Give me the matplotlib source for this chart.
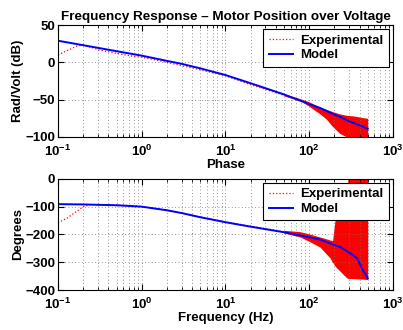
import matplotlib
matplotlib.use('Agg')
import matplotlib.pyplot as plt
import numpy as np

plt.rcParams['font.family'] = ['Liberation Sans', 'DejaVu Sans']
plt.rcParams['font.weight'] = 'bold'
plt.rcParams['axes.labelweight'] = 'bold'
plt.rcParams['axes.titleweight'] = 'bold'
plt.rcParams['mathtext.fontset'] = 'custom'
plt.rcParams['mathtext.bf'] = 'Liberation Sans:bold'
plt.rcParams['mathtext.rm'] = 'Liberation Sans:bold'

# ---------------- data ----------------
# Model curve
freq_model = [0.1, 0.2, 0.5, 1, 2, 3, 5, 10, 20, 50, 100, 134, 200, 234, 300, 372, 437, 470, 500]
mag_model = [29, 23, 15, 9, 2, -2, -8, -17, -28, -43, -56, -61, -70, -73, -79, -83, -86, -88, -89]
phase_model = [-91, -92, -95, -100, -113, -123, -138, -156, -172, -192, -210, -218, -238, -245,
               -265, -285, -328, -343, -358]

# Experimental (dotted trace)
freq_exp = [0.1, 0.13, 0.17, 0.2, 0.25, 0.3, 0.5, 0.8, 1, 2, 5, 10, 20, 50]
mag_exp = [10, 16, 22, 23, 20, 17, 12, 8, 7, 0, -10, -18, -30, -44]
phase_exp = [-158, -140, -115, -100, -92, -93, -94, -96, -100, -113, -137, -155, -170, -190]

# Experimental scatter envelope at high frequency
freq_cloud_mag = [50, 80, 100, 134, 160, 190, 230, 280, 350, 430, 500]
mag_cloud_hi = [-42, -49, -53, -60, -63, -66, -69, -71, -72, -74, -75]
mag_cloud_lo = [-45, -52, -59, -69, -76, -86, -95, -100, -105, -105, -105]

freq_cloud_ph = [50, 78, 100, 134, 178, 190, 205, 280, 290, 400, 500]
ph_cloud_hi = [-185, -190, -198, -209, -220, -222, -140, -130, 0, 0, 0]
ph_cloud_lo = [-195, -209, -225, -245, -285, -300, -315, -356, -358, -360, -362]

xticks = [0.1, 1, 10, 100, 1000]
xticklabels = [r'$\mathbf{10^{-1}}$', r'$\mathbf{10^{0}}$', r'$\mathbf{10^{1}}$',
               r'$\mathbf{10^{2}}$', r'$\mathbf{10^{3}}$']

fig = plt.figure(figsize=(4.03, 3.30), dpi=100)
ax1 = fig.add_axes([0.144, 0.585, 0.831, 0.339])
ax2 = fig.add_axes([0.144, 0.121, 0.831, 0.337])

def style_axis(ax, ylim, yticks):
    ax.set_xscale('log')
    ax.set_xlim(0.1, 1000)
    ax.set_ylim(*ylim)
    ax.set_yticks(yticks)
    ax.set_xticks(xticks)
    ax.set_xticklabels(xticklabels)
    ax.grid(True, which='major', color='0.45', linestyle=(0, (1, 3)), linewidth=0.6)
    ax.grid(True, which='minor', axis='x', color='0.45', linestyle=(0, (1, 3)), linewidth=0.6)
    ax.tick_params(direction='in', which='both', top=True, right=True, labelsize=9.5)
    ax.tick_params(axis='y', pad=2)
    ax.tick_params(axis='x', pad=5)
    ax.tick_params(which='major', length=4)
    ax.tick_params(which='minor', length=2)
    for lab in ax.get_yticklabels() + ax.get_xticklabels():
        lab.set_fontweight('bold')
    for sp in ax.spines.values():
        sp.set_linewidth(0.8)

# Magnitude
ax1.fill_between(freq_cloud_mag, mag_cloud_lo, mag_cloud_hi, color='red', linewidth=0)
ax1.plot(freq_exp, mag_exp, color='red', linestyle=':', linewidth=0.9, label='Experimental')
ax1.plot(freq_model, mag_model, color='blue', linewidth=1.4, label='Model')
style_axis(ax1, (-100, 50), [-100, -50, 0, 50])
ax1.set_ylabel('Rad/Volt (dB)', fontsize=9.5, labelpad=1)
ax1.set_xlabel('Phase', fontsize=9.5, labelpad=0)
ax1.set_title('Frequency Response \u2013 Motor Position over Voltage', fontsize=9.7,
              fontweight='bold', pad=4)

# Phase
ax2.fill_between(freq_cloud_ph, ph_cloud_lo, ph_cloud_hi, color='red', linewidth=0)
ax2.plot(freq_exp, phase_exp, color='red', linestyle=':', linewidth=0.9, label='Experimental')
ax2.plot(freq_model, phase_model, color='blue', linewidth=1.4, label='Model')
style_axis(ax2, (-400, 0), [-400, -300, -200, -100, 0])
ax2.set_ylabel('Degrees', fontsize=9.5, labelpad=1)
ax2.set_xlabel('Frequency (Hz)', fontsize=9.5, labelpad=0)

for ax in (ax1, ax2):
    leg = ax.legend(loc='upper right', fontsize=9.5, fancybox=False, framealpha=1,
                    edgecolor='black', borderpad=0.4, labelspacing=0.2,
                    handlelength=1.8, handletextpad=0.6, borderaxespad=0.3)
    leg.get_frame().set_linewidth(0.8)

fig.savefig('out.png', dpi=100)
